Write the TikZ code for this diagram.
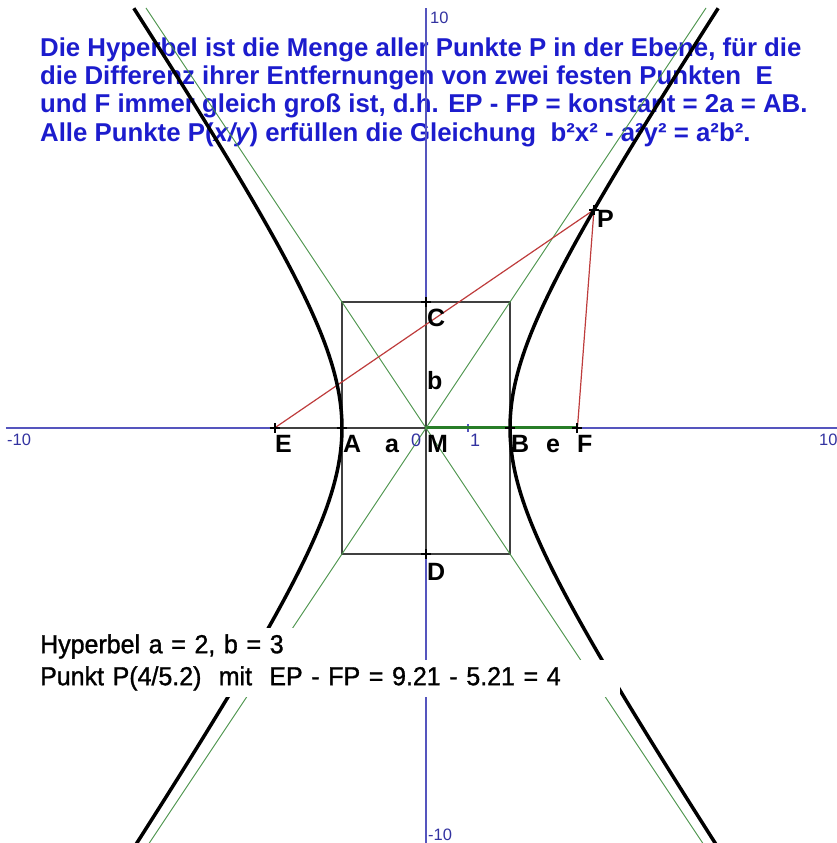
\documentclass[tikz,border=0pt]{standalone}
\usepackage{fontspec}
\newfontfamily\lsans{Liberation Sans}
\newfontfamily\lsansb{Liberation Sans}[FakeStretch=0.96,FakeBold=1.2]
\definecolor{axisblue}{RGB}{85,85,190}
\definecolor{txtblue}{RGB}{28,28,205}
\definecolor{tickblue}{RGB}{50,50,160}
\definecolor{asygreen}{RGB}{70,145,70}
\definecolor{segreen}{RGB}{40,125,40}
\definecolor{redline}{RGB}{190,60,60}
\definecolor{seggray}{RGB}{64,64,64}
\begin{document}
\begin{tikzpicture}[x=42pt,y=42pt,
  toptext/.style={anchor=base west, inner sep=0, text=txtblue, font=\lsans\bfseries\fontsize{25.8}{28}\selectfont},
  bottext/.style={anchor=north west, inner sep=0, fill=white, align=left, text=black, font=\lsansb\fontsize{26}{30}\selectfont},
  lbl/.style={anchor=base west, inner sep=0, text=black, font=\lsans\bfseries\fontsize{25}{28}\selectfont},
  ticklbl/.style={inner sep=0, text=tickblue, font=\lsans\fontsize{16.5}{18}\selectfont},
  numlbl/.style={inner sep=0, text=tickblue, font=\lsans\fontsize{18}{20}\selectfont},
  axisline/.style={draw=axisblue, line width=1.5pt},
  rectline/.style={draw=seggray, line width=1.8pt},
  grayseg/.style={draw=seggray, line width=2pt},
  greenseg/.style={draw=segreen, line width=3pt},
  asyline/.style={draw=asygreen, line width=0.9pt},
  redseg/.style={draw=redline, line width=1.2pt},
  hyp/.style={draw=black, line width=3.5pt},
  crossmark/.style={draw=black, line width=2pt}]
\useasboundingbox (-426pt,-415pt) rectangle (411pt,428pt);
% top text (lines are drawn over it)
\node[toptext] (t1) at (-386pt,371pt) {Die Hyperbel ist die Menge aller Punkte P in der Ebene, für die};
\node[toptext] (t2) at (-386pt,343pt) {die Differenz ihrer Entfernungen von zwei festen Punkten\ \ E};
\node[toptext] (t3) at (-386pt,315pt) {und F immer gleich groß ist, d.h. EP - FP = konstant = 2a = AB.};
\node[toptext] (t4) at (-386pt,286pt) {Alle Punkte P({\itshape x/y}) erfüllen die Gleichung\ \ b²x² - a²y² = a²b².};
% points
\coordinate (E) at (-3.6056,0);
\coordinate (A) at (-2,0);
\coordinate (M) at (0,0);
\coordinate (B) at (2,0);
\coordinate (F) at (3.6056,0);
\coordinate (C) at (0,3);
\coordinate (D) at (0,-3);
\coordinate (P) at (4,5.196);
\begin{scope}
\clip (-426pt,-415pt) rectangle (411pt,428pt);
% axes
\draw[axisline] (-10,0) -- (10,0);
\draw[axisline] (0,-10) -- (0,10);
\draw[axisline] (1,-4pt) -- (1,4pt);
% rectangle
\draw[rectline] (-2,-3) rectangle (2,3);
% segments
\draw[grayseg] (E) -- (M);
\draw[grayseg] (C) -- (D);
\draw[greenseg] (M) -- (F);
% asymptotes
\draw[asyline] (-7,-10.5) -- (6.667,10);
\draw[asyline] (-6.667,10) -- (7,-10.5);
% red lines
\draw[redseg] (E) -- (P);
\draw[redseg] (F) -- (P);
% hyperbola
\draw[hyp] plot[domain=-2.1:1.919, samples=120, smooth, variable=\t] ({2*cosh(\t)},{3*sinh(\t)});
\draw[hyp] plot[domain=-2.1:1.919, samples=120, smooth, variable=\t] ({-2*cosh(\t)},{3*sinh(\t)});
% point crosses
\foreach \p in {E,A,B,F,C,D,P}
  \draw[crossmark] (\p) ++(-5pt,0) -- ++(10pt,0) (\p) ++(0,-5pt) -- ++(0,10pt);
\end{scope}
% labels
\node[lbl] (lE) at (-151pt,-25pt) {E};
\node[lbl] (lA) at (-83pt,-25pt) {A};
\node[lbl] (la) at (-41pt,-25pt) {a};
\node[lbl] (lM) at (1pt,-25pt) {M};
\node[lbl] (lB) at (85pt,-25pt) {B};
\node[lbl] (le) at (120pt,-25pt) {e};
\node[lbl] (lF) at (151pt,-25pt) {F};
\node[lbl] (lC) at (1pt,101pt) {C};
\node[lbl] (lb) at (1pt,38pt) {b};
\node[lbl] (lD) at (1pt,-152pt) {D};
\node[lbl] (lP) at (171pt,200pt) {P};
% tick labels
\node[ticklbl, anchor=north west] (ty1) at (4pt,416pt) {10};
\node[ticklbl, anchor=north west] (tx0) at (-419pt,-6pt) {-10};
\node[ticklbl, anchor=north west] (tx1) at (393pt,-6pt) {10};
\node[ticklbl, anchor=north west] (ty0) at (2pt,-401pt) {-10};
\node[numlbl, anchor=base west] (t0) at (-15pt,-19pt) {0};
\node[numlbl, anchor=base west] (tone) at (44pt,-19pt) {1};
% bottom text with white background
\node[bottext, text width=260pt, text height=25pt, text depth=7pt] (b1) at (-386pt,-200pt) {Hyperbel a = 2, b = 3};
\node[bottext, text width=580pt, text height=25pt, text depth=12pt] (b2) at (-386pt,-232pt) {Punkt P(4/5.2)\ \ mit\ \ EP - FP = 9.21 - 5.21 = 4};
\end{tikzpicture}
\end{document}
